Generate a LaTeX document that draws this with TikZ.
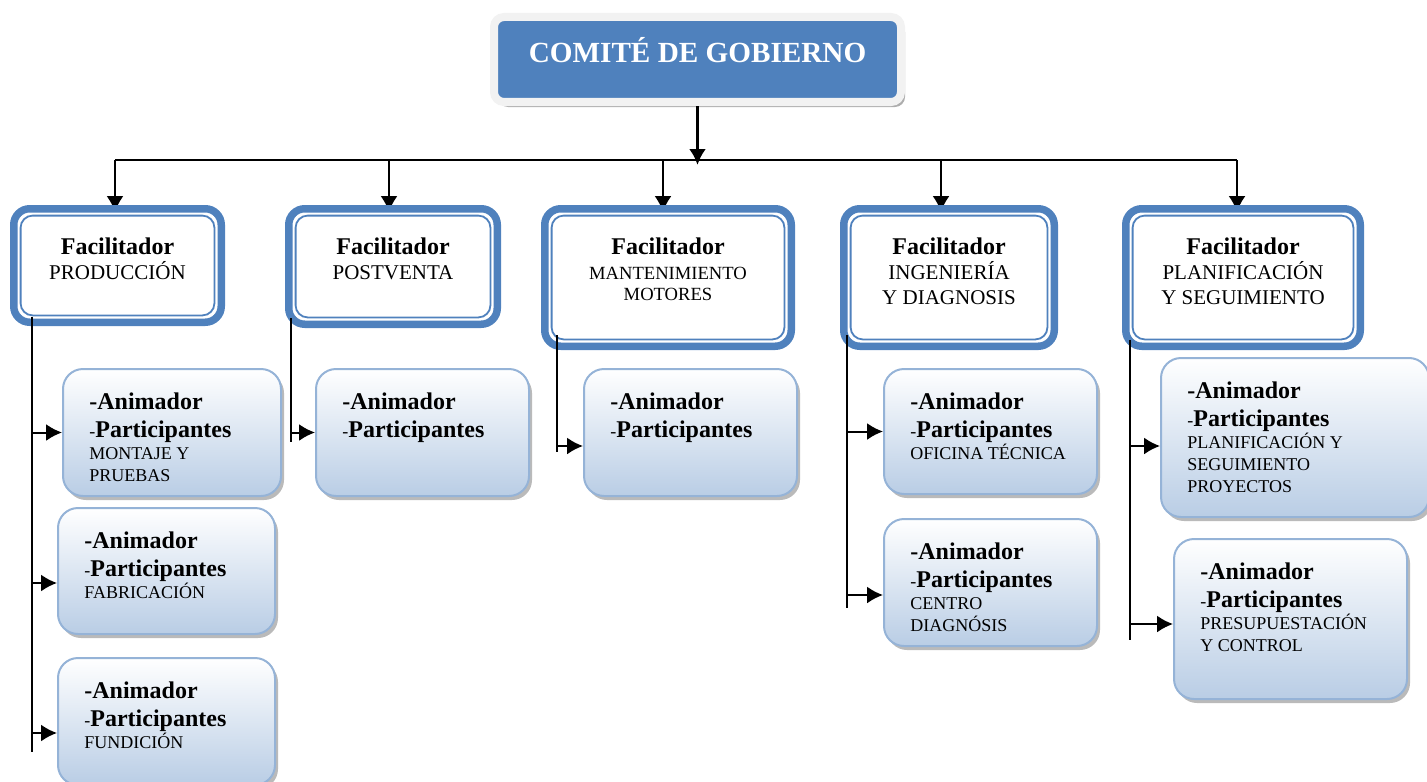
\documentclass[tikz,border=0pt]{standalone}
\usepackage{fontspec}
\setmainfont{Liberation Serif}
\usetikzlibrary{arrows.meta,shadows}
\definecolor{fblue}{HTML}{4F81BD}
\definecolor{pborder}{HTML}{95B3D7}
\definecolor{pfill}{HTML}{B9CDE5}
\definecolor{gborder}{HTML}{F2F2F2}
\pgfdeclarelayer{bg}
\pgfsetlayers{bg,main}
\newcommand\fac{{\fontsize{12}{12.5}\selectfont\bfseries Facilitador}}
\newcommand\mfont{\fontsize{9.3}{10}\selectfont}
\newcommand\anim{{\fontsize{12}{14}\selectfont\bfseries -Animador}}
\newcommand\parti{{-\fontsize{12}{14}\selectfont\bfseries Participantes}}
\begin{document}
\begin{tikzpicture}
  [x=0.5pt,y=-0.5pt,every node/.style={inner sep=0pt}]
  \tikzstyle{gobierno} = [rectangle,rounded corners=5pt,fill=fblue,draw=gborder,line width=4pt,
    drop shadow={shadow xshift=2pt,shadow yshift=-2.5pt,fill=black!40,opacity=.8},
    text=white,font=\fontsize{14.6}{16}\selectfont\bfseries,
    minimum width=203.5pt,inner ysep=10pt,text height=12.5pt,text depth=10pt]
  \tikzstyle{facil} = [rectangle,rounded corners=8pt,draw=fblue,line width=3.75pt,fill=white]
  \tikzstyle{finner} = [draw=fblue,line width=0.9pt,rounded corners=6pt]
  \tikzstyle{ftext} = [align=center,anchor=north,font=\fontsize{10.5}{12.5}\selectfont]
  \tikzstyle{part} = [rectangle,rounded corners=10pt,draw=pborder,line width=1pt,
    top color=white,bottom color=pfill,
    drop shadow={shadow xshift=1.5pt,shadow yshift=-2pt,fill=black!45,opacity=.6}]
  \tikzstyle{ptext} = [align=left,anchor=north west,font=\fontsize{9}{11}\selectfont]
  \tikzstyle{conn} = [draw,line width=1pt]
  \tikzstyle{arr} = [conn,-{Latex[length=8pt,width=8.5pt]}]
  \useasboundingbox (0,0) rectangle (1427,781);
  \clip (0,0) rectangle (1427,781);

  \node[gobierno] (gob) at (697.5,59.5) {COMITÉ DE GOBIERNO};

  \coordinate (b1) at (115,160);
  \coordinate (b2) at (389,160);
  \coordinate (b3) at (663,160);
  \coordinate (b4) at (941,160);
  \coordinate (b5) at (1237,160);
  \draw[conn] (b1) -- (b5);
  \draw[arr,line width=1.5pt,shorten >=-2.5pt] (gob.south) -- (gob.south |- b1);

\foreach \n/\x/\y/\w/\h in {f1/117.5/265.5/103.75/56.75, f2/393/266.5/104.25/57.75,
    f3/668/277.5/123.25/68.75, f4/949/277.5/105.25/68.75, f5/1243/277.5/117.25/68.75}
   {\node[facil,minimum width=\w pt,minimum height=\h pt] (\n) at (\x,\y) {};
    \draw[finner] ([xshift=5.3pt,yshift=-5.3pt]\n.north west)
      rectangle ([xshift=-5.3pt,yshift=5.3pt]\n.south east);}

  % arrows from the bus, their tips go under the border
\begin{pgfonlayer}{bg}
\foreach \b/\f in {b1/f1,b2/f2,b3/f3,b4/f4,b5/f5}
   \draw[arr,shorten >=-3.5pt] (\b) -- (\b |- \f.north);
\end{pgfonlayer}

\foreach \n/\t in {f1/{PRODUCCIÓN}, f2/{POSTVENTA},
    f3/{{\mfont MANTENIMIENTO}\\[-2pt]{\mfont MOTORES}},
    f4/{INGENIERÍA\\Y DIAGNOSIS}, f5/{PLANIFICACIÓN\\Y SEGUIMIENTO}}
   \node[ftext] (\n t) at ([yshift=-16pt]\n.north) {\fac\\\t};

\foreach \n/\x/\y/\w/\h in {a1/172/432.5/109/63.5, a2/166.5/571/108.5/63,
    a3/166.5/721.5/108.5/63.5, p1/422.5/432.5/106.5/63.5, m1/690.5/432.5/106.5/63.5,
    i1/990.5/431.5/106.5/62.5, i2/990.5/582.5/106.5/63.5,
    pl1/1295/437.5/134/79.5, pl2/1290.5/619/116.5/80}
   \node[part,minimum width=\w pt,minimum height=\h pt] (\n) at (\x,\y) {};

\foreach \n/\t in {a1/{\\MONTAJE Y\\PRUEBAS}, a2/{\\FABRICACIÓN}, a3/{\\FUNDICIÓN},
    p1/{}, m1/{}, i1/{\\OFICINA TÉCNICA}, i2/{\\CENTRO\\DIAGNÓSIS},
    pl1/{\\PLANIFICACIÓN Y\\SEGUIMIENTO\\PROYECTOS}, pl2/{\\PRESUPUESTACIÓN\\Y CONTROL}}
   \node[ptext] (\n t) at ([xshift=13.5pt,yshift=-12pt]\n.north west) {\anim\\[3pt]\parti\t};

  \coordinate (v1) at (32,317);   \coordinate (e1) at (32,752);
  \coordinate (v2) at (291,318);  \coordinate (e2) at (291,442);
  \coordinate (v3) at (557,335);  \coordinate (e3) at (557,452);
  \coordinate (v4) at (847,335);  \coordinate (e4) at (847,608);
  \coordinate (v5) at (1130,340); \coordinate (e5) at (1130,640);
\foreach \v/\e in {v1/e1,v2/e2,v3/e3,v4/e4,v5/e5}
   \draw[conn] (\v) -- (\e);
\foreach \v/\b/\d in {v1/a1/0,v1/a2/6,v1/a3/5.75,v2/p1/0,v3/m1/6.75,
    v4/i1/0,v4/i2/6.25,v5/pl1/4.25,v5/pl2/2.5}
   \draw[arr] ([yshift=-\d pt]\b.west -| \v) -- ([yshift=-\d pt]\b.west);

\end{tikzpicture}
\end{document}
